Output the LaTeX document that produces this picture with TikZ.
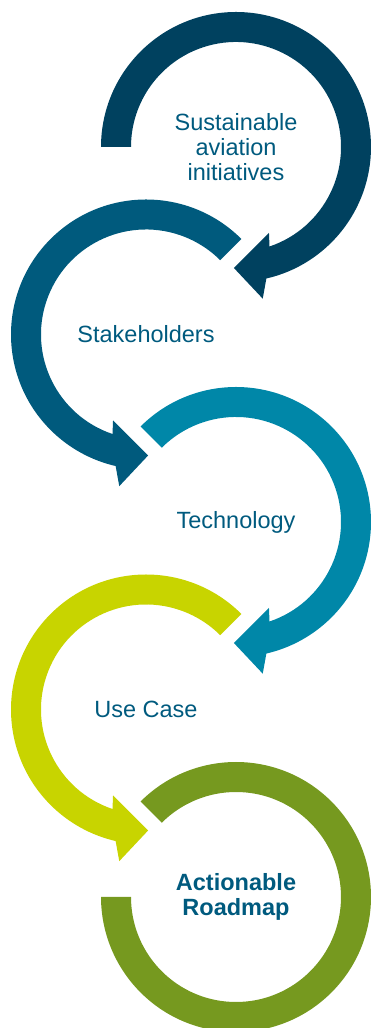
\documentclass[tikz,border=0pt]{standalone}
\usepackage{fontspec}
\setmainfont{Liberation Sans}
\definecolor{ringnavy}{HTML}{00415F}
\definecolor{ringblue}{HTML}{005A7D}
\definecolor{ringteal}{HTML}{0087A8}
\definecolor{ringlime}{HTML}{C8D400}
\definecolor{ringolive}{HTML}{76991F}
\definecolor{textblue}{HTML}{005A7E}

\begin{document}
\begin{tikzpicture}[x=1pt,y=1pt,
    steptext/.style={text=textblue, align=center, font=\fontsize{23.5}{25}\selectfont}]

    \useasboundingbox (0,0) rectangle (371,1028);

    \node[steptext] at (236,881) (SAI) {Sustainable\\aviation\\initiatives};
    \node[steptext] at (146,693.5) (SH) {Stakeholders};
    \node[steptext] at (236,506) (TE) {Technology};
    \node[steptext] at (146,318.5) (UC) {Use Case};
    \node[steptext, font=\bfseries\fontsize{23.5}{25}\selectfont] at (236,131) (AR) {Actionable\\Roadmap};

    % clockwise rings
    \begin{scope}[shift={(SAI.center)}]
        \fill[ringnavy] (180:135) arc[start angle=180, end angle=-77, radius=135]
            -- (-80:154) -- (-91:121) -- (-69:92) -- (-71.4:105)
            arc[start angle=-71.4, end angle=180, radius=105] -- cycle;
    \end{scope}
    \begin{scope}[shift={(TE.center)}]
        \fill[ringteal] (135:135) arc[start angle=135, end angle=-77, radius=135]
            -- (-80:154) -- (-91:121) -- (-69:92) -- (-71.4:105)
            arc[start angle=-71.4, end angle=135, radius=105] -- cycle;
    \end{scope}

    % counter-clockwise rings
    \begin{scope}[shift={(SH.center)}]
        \fill[ringblue] (45:135) arc[start angle=45, end angle=257, radius=135]
            -- (260:154) -- (271:121) -- (249:92) -- (251.4:105)
            arc[start angle=251.4, end angle=45, radius=105] -- cycle;
    \end{scope}
    \begin{scope}[shift={(UC.center)}]
        \fill[ringlime] (45:135) arc[start angle=45, end angle=257, radius=135]
            -- (260:154) -- (271:121) -- (249:92) -- (251.4:105)
            arc[start angle=251.4, end angle=45, radius=105] -- cycle;
    \end{scope}

    % last ring, no head
    \begin{scope}[shift={(AR.center)}]
        \fill[ringolive] (135:135) arc[start angle=135, end angle=-180, radius=135]
            -- (180:105) arc[start angle=-180, end angle=135, radius=105] -- cycle;
    \end{scope}
\end{tikzpicture}
\end{document}
